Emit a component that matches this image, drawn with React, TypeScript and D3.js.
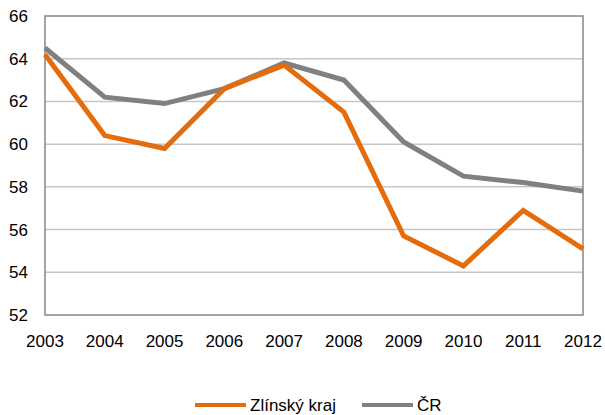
import React, { useEffect, useRef } from "react";
import * as d3 from "d3";

const years = ["2003", "2004", "2005", "2006", "2007", "2008", "2009", "2010", "2011", "2012"];
const zlinskyKraj = [64.2, 60.4, 59.8, 62.6, 63.7, 61.5, 55.7, 54.3, 56.9, 55.1];
const cr = [64.5, 62.2, 61.9, 62.6, 63.8, 63.0, 60.1, 58.5, 58.2, 57.8];
const yTicks = [52, 54, 56, 58, 60, 62, 64, 66];

const seriesNames = ["Zlínský kraj", "ČR"];
const seriesColors = ["#E46C0A", "#808080"];

const W = 605;
const H = 415;
const FONT = "'Liberation Sans', Arial, sans-serif";
const FS = "17px";

function drawChart(el: SVGSVGElement) {
  const svg = d3.select(el);
  svg.selectAll("*").remove();

  const margin = { top: 16, right: 22, bottom: 100, left: 45 };

  const x = d3
    .scalePoint<string>()
    .domain(years)
    .range([margin.left, W - margin.right]);
  const y = d3.scaleLinear().domain([52, 66]).range([H - margin.bottom, margin.top]);

  // gridlines
  svg
    .append("g")
    .selectAll("line")
    .data(yTicks.filter((t) => t !== 52 && t !== 66))
    .enter()
    .append("line")
    .attr("x1", margin.left)
    .attr("x2", W - margin.right)
    .attr("y1", (d) => y(d))
    .attr("y2", (d) => y(d))
    .attr("stroke", "#c6c6c6")
    .attr("stroke-width", 1.5);

  // frame
  svg
    .append("rect")
    .attr("x", margin.left)
    .attr("y", margin.top)
    .attr("width", W - margin.right - margin.left)
    .attr("height", H - margin.bottom - margin.top)
    .attr("fill", "none")
    .attr("stroke", "#868686")
    .attr("stroke-width", 1.5);

  // y labels
  svg
    .append("g")
    .selectAll("text")
    .data(yTicks)
    .enter()
    .append("text")
    .attr("x", margin.left - 17)
    .attr("y", (d) => y(d))
    .attr("dy", "0.35em")
    .attr("text-anchor", "end")
    .style("font-family", FONT)
    .style("font-size", FS)
    .style("fill", "#000")
    .text((d) => d);

  // x labels
  svg
    .append("g")
    .selectAll("text")
    .data(years)
    .enter()
    .append("text")
    .attr("x", (d) => x(d)!)
    .attr("y", H - margin.bottom + 32)
    .attr("text-anchor", "middle")
    .style("font-family", FONT)
    .style("font-size", FS)
    .style("fill", "#000")
    .text((d) => d);

  // lines
  const line = d3
    .line<number>()
    .x((_, i) => x(years[i])!)
    .y((d) => y(d));

  [cr, zlinskyKraj].forEach((vals, k) => {
    svg
      .append("path")
      .datum(vals)
      .attr("d", line)
      .attr("fill", "none")
      .attr("stroke", k === 0 ? seriesColors[1] : seriesColors[0])
      .attr("stroke-width", 5)
      .attr("stroke-linejoin", "miter");
  });

  // legend
  const legendY = 405;
  const legendItems = [
    { x: 195, name: seriesNames[0], color: seriesColors[0] },
    { x: 362, name: seriesNames[1], color: seriesColors[1] },
  ];
  legendItems.forEach((it) => {
    svg
      .append("line")
      .attr("x1", it.x)
      .attr("x2", it.x + 51)
      .attr("y1", legendY)
      .attr("y2", legendY)
      .attr("stroke", it.color)
      .attr("stroke-width", 4);
    svg
      .append("text")
      .attr("x", it.x + 55)
      .attr("y", legendY)
      .attr("dy", "0.35em")
      .style("font-family", FONT)
      .style("font-size", FS)
      .style("fill", "#000")
      .text(it.name);
  });
}

export default function App() {
  const ref = useRef<SVGSVGElement>(null);
  useEffect(() => {
    if (ref.current) drawChart(ref.current);
  }, []);
  return (
    <svg
      ref={ref}
      width={W}
      height={H}
      style={{ position: "absolute", left: 0, top: 0, background: "#fff" }}
    />
  );
}
